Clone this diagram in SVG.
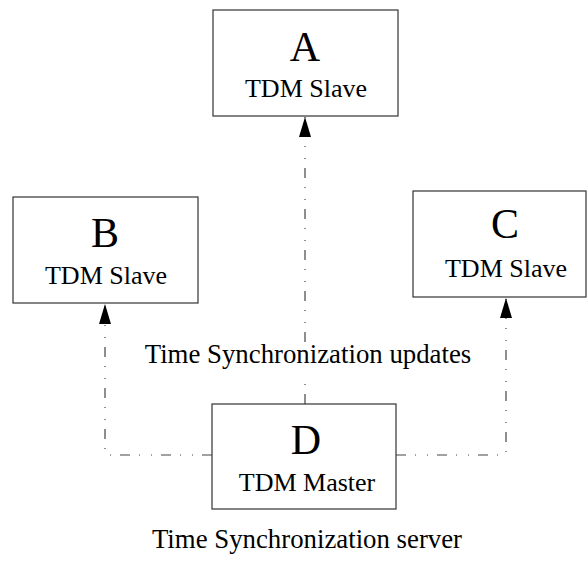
<svg xmlns="http://www.w3.org/2000/svg" width="587" height="563" viewBox="0 0 587 563">
<style>
.box{fill:#fff;stroke:#333;stroke-width:1.2}
.big{font-family:"Liberation Serif",serif;font-size:42px;text-anchor:middle;fill:#000}
.sub{font-family:"Liberation Serif",serif;font-size:26px;text-anchor:middle;fill:#000}
.lbl{font-family:"Liberation Serif",serif;font-size:26.8px;text-anchor:middle;fill:#000}
.conn{fill:none;stroke:#444;stroke-width:1.2;stroke-dasharray:10 9 1 11 1 9}
</style>
<defs>
<marker id="arr" viewBox="0 0 20 12" refX="20" refY="6" markerWidth="20" markerHeight="12" markerUnits="userSpaceOnUse" orient="auto">
<path d="M0,0 L20,6 L0,12 Z" fill="#000"/>
</marker>
</defs>
<g id="connectors">
<path class="conn" d="M305 404 V376" />
<path class="conn" d="M305 342 V117" marker-end="url(#arr)"/>
<path class="conn" d="M212 455 H105 V304" marker-end="url(#arr)"/>
<path class="conn" d="M396 455 H506 V298" marker-end="url(#arr)"/>
</g>
<g id="A">
<rect class="box" x="213" y="10" width="185" height="106"/>
<text class="big" x="305" y="61">A</text>
<text class="sub" x="306" y="97">TDM Slave</text>
</g>
<g id="B">
<rect class="box" x="13" y="197" width="185" height="106"/>
<text class="big" x="105" y="247">B</text>
<text class="sub" x="106" y="284">TDM Slave</text>
</g>
<g id="C">
<rect class="box" x="413" y="191" width="173" height="106"/>
<text class="big" x="505" y="238">C</text>
<text class="sub" x="506" y="277">TDM Slave</text>
</g>
<g id="D">
<rect class="box" x="212" y="404" width="184" height="105"/>
<text class="big" x="306" y="454">D</text>
<text class="sub" x="307" y="491">TDM Master</text>
</g>
<text class="lbl" x="308" y="363">Time Synchronization updates</text>
<text class="lbl" x="307" y="548">Time Synchronization server</text>
</svg>
